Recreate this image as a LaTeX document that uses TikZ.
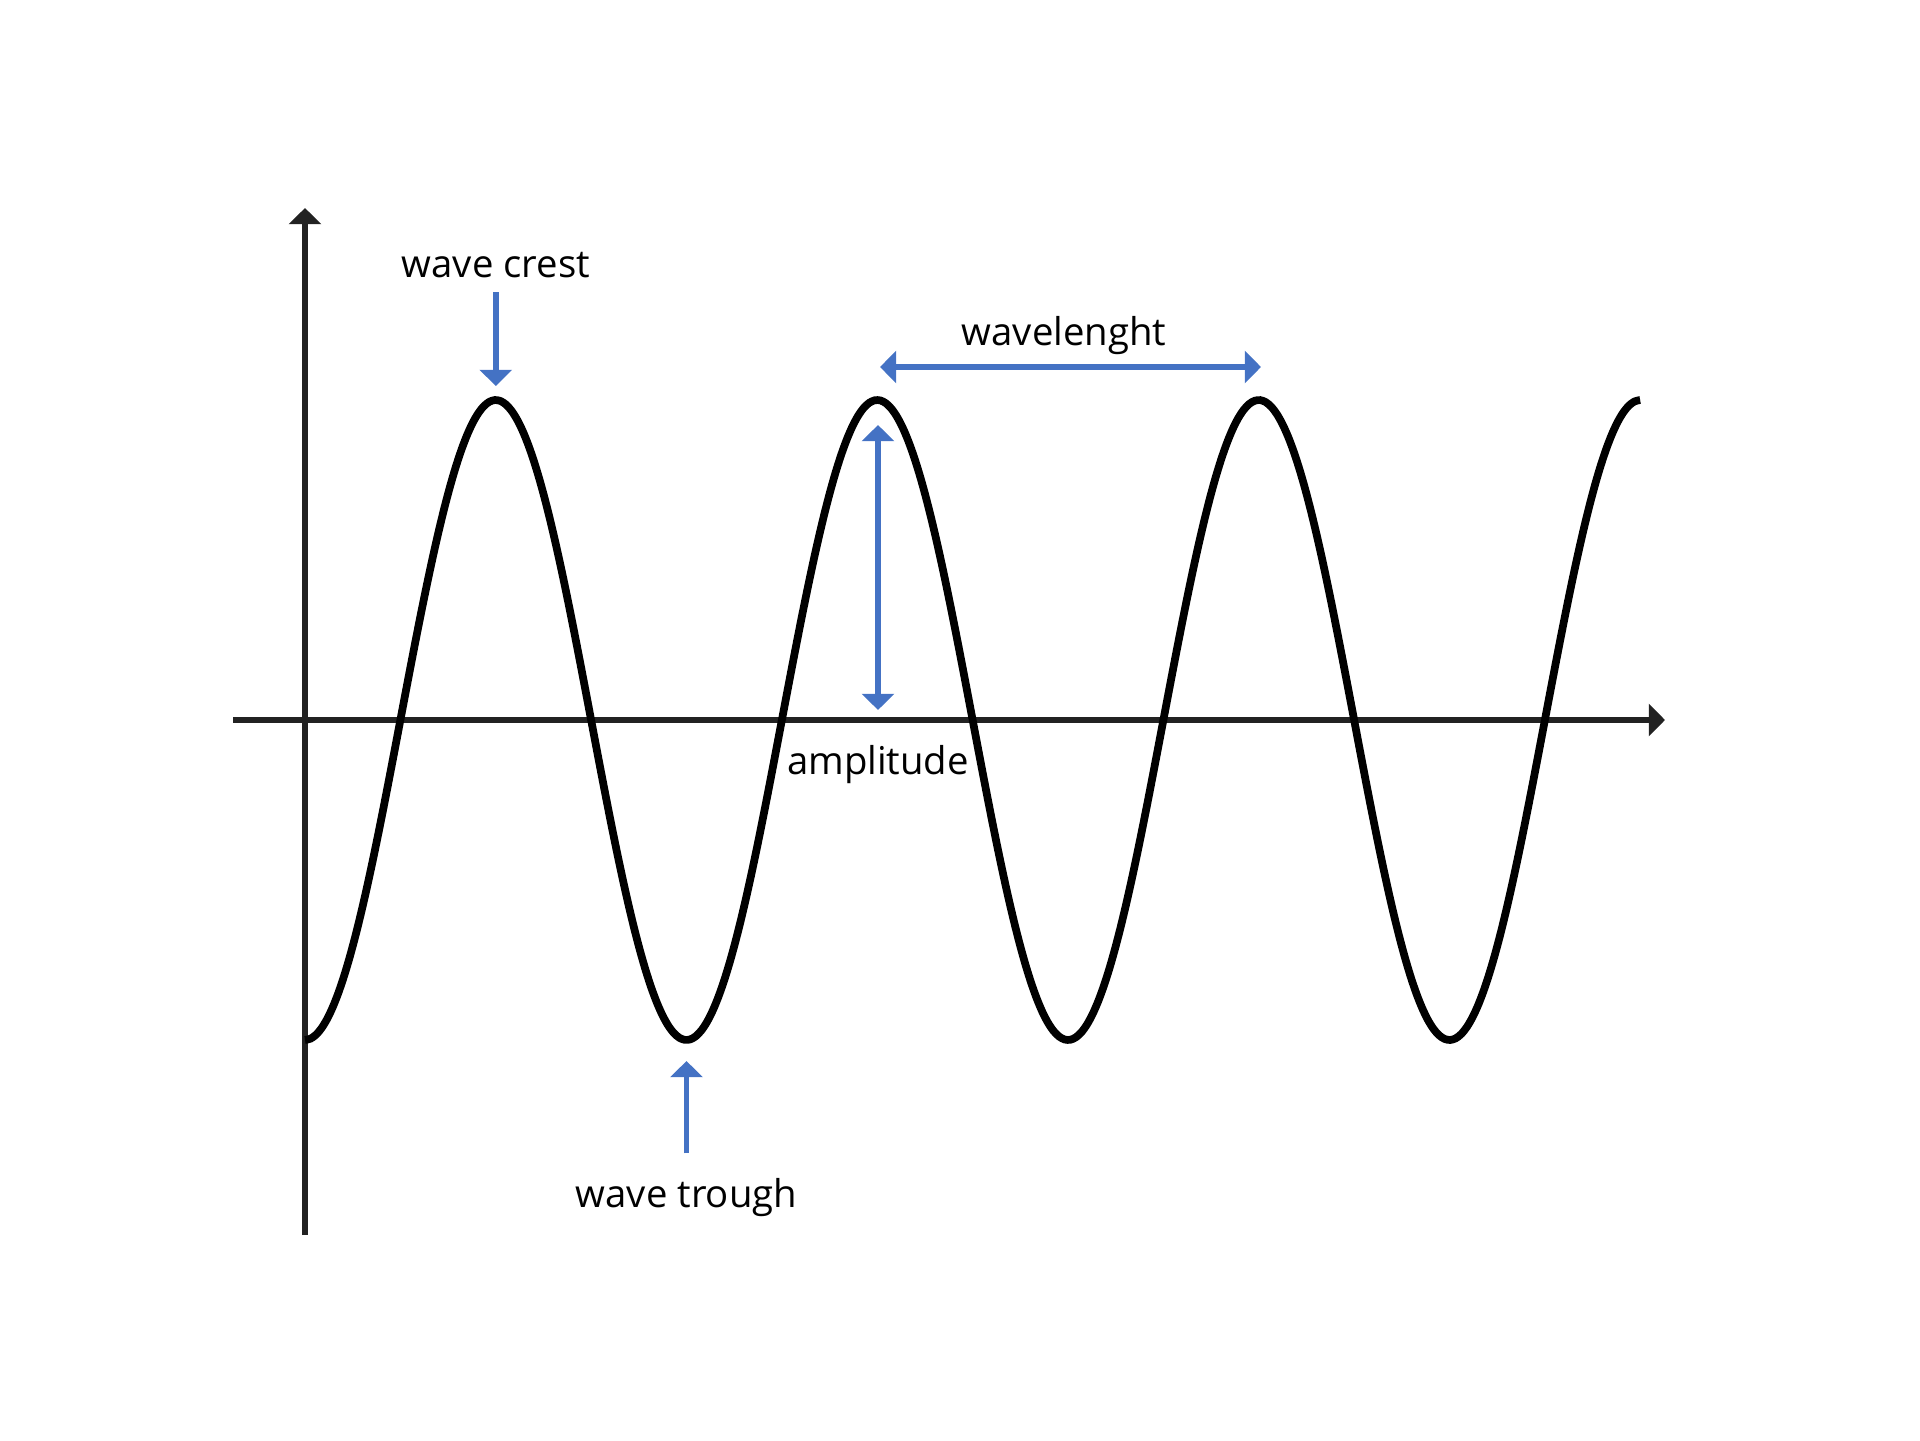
\documentclass[tikz,border=0pt]{standalone}
\usepackage{fontspec}
\setmainfont{Open Sans}
\usetikzlibrary{arrows.meta}
\definecolor{axisgray}{HTML}{222222}
\definecolor{markblue}{HTML}{4472C4}

\begin{document}
\begin{tikzpicture}[
    axisline/.style={line width=1.8pt, draw=axisgray, -{Triangle[width=9pt,length=4.6pt]}},
    marker/.style={line width=1.6pt, draw=markblue, -{Triangle[width=9pt,length=4.6pt]}},
    twoway/.style={marker, {Triangle[width=9pt,length=4.6pt]}-{Triangle[width=9pt,length=4.6pt]}},
    wavetext/.style={inner sep=0pt, anchor=base, font=\fontsize{10.9pt}{13pt}\selectfont}
  ]
    \useasboundingbox (-3.05,-7.20) rectangle (16.15,7.20);
    \draw[axisline] (0,-5.15) -- (0,5.12);
    \draw[axisline] (-0.72,0) -- (13.60,0);
    \draw[line width=2.2pt, black] plot[domain=0:13.3525, samples=240, smooth] (\x, {-3.20*cos(360*\x/3.815)});
    \node[wavetext] (crestlabel) at (1.908,4.42) {wave crest};
    \node[wavetext] (troughlabel) at (3.815,-4.87) {wave trough};
    \node[wavetext] (lambdalabel) at (7.59,3.74) {wavelenght};
    \node[wavetext] (amplabel) at (5.73,-0.545) {amplitude};
    \coordinate (crest) at (1.908,3.34);
    \coordinate (trough) at (3.815,-3.41);
    \coordinate (lambdastart) at (5.75,3.53);
    \coordinate (lambdaend) at (9.56,3.53);
    \coordinate (amptop) at (5.73,2.95);
    \coordinate (ampbottom) at (5.73,0.10);
    \draw[marker, shorten <=3.7pt] (crestlabel.south) -- (crest);
    \draw[marker, shorten <=6.8pt] (troughlabel.north) -- (trough);
    \draw[twoway] (lambdastart) -- (lambdaend);
    \draw[twoway] (ampbottom) -- (amptop);
\end{tikzpicture}
\end{document}
